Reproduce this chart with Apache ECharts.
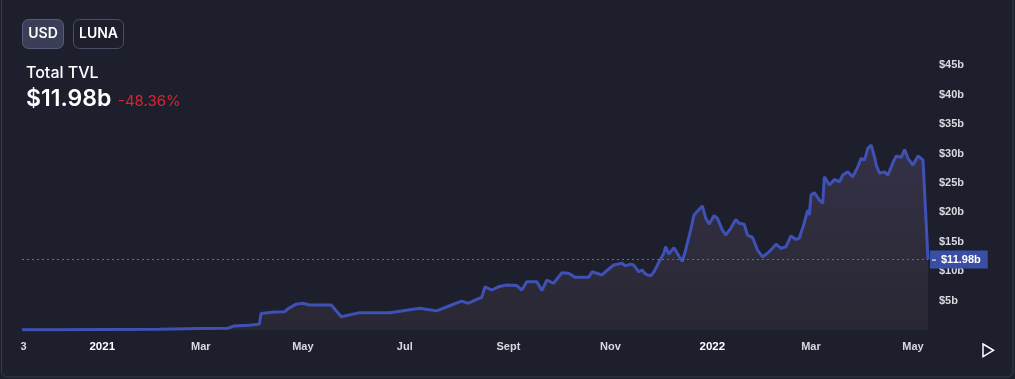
<!DOCTYPE html>
<html>
<head>
<meta charset="utf-8">
<script src="https://cdn.jsdelivr.net/npm/echarts@6/dist/echarts.min.js"></script>
<style>
  html, body { margin: 0; padding: 0; background: #1d1f2d; }
  #chart { width: 1015px; height: 379px; }
</style>
</head>
<body>
<div id="chart"></div>
<script>
// ---- data ----
const dates = [
  '2020-11-14','2020-12-06','2021-01-01','2021-02-04','2021-02-28','2021-03-17','2021-03-21','2021-03-30',
  '2021-04-05','2021-04-06','2021-04-14','2021-04-20','2021-04-22','2021-04-27','2021-05-01','2021-05-05',
  '2021-05-18','2021-05-24','2021-06-04','2021-06-22','2021-07-10','2021-07-20','2021-07-29','2021-08-04',
  '2021-08-08','2021-08-13','2021-08-16','2021-08-18','2021-08-22','2021-08-26','2021-08-31','2021-09-06',
  '2021-09-09','2021-09-12','2021-09-18','2021-09-21','2021-09-24','2021-09-28','2021-10-03','2021-10-07',
  '2021-10-11','2021-10-19','2021-10-21','2021-10-27','2021-10-29','2021-11-03','2021-11-08','2021-11-10',
  '2021-11-13','2021-11-15','2021-11-18','2021-11-20','2021-11-22','2021-11-25','2021-11-27','2021-11-30',
  '2021-12-03','2021-12-04','2021-12-06','2021-12-09','2021-12-12','2021-12-14','2021-12-16','2021-12-19',
  '2021-12-21','2021-12-24','2021-12-26','2021-12-28','2021-12-30','2022-01-02','2022-01-04','2022-01-07',
  '2022-01-09','2022-01-12','2022-01-15','2022-01-17','2022-01-20','2022-01-22','2022-01-25','2022-01-28',
  '2022-01-31','2022-02-03','2022-02-06','2022-02-08','2022-02-11','2022-02-14','2022-02-17','2022-02-20',
  '2022-02-22','2022-02-25','2022-02-27','2022-02-28','2022-03-01','2022-03-03','2022-03-06','2022-03-08',
  '2022-03-09','2022-03-12','2022-03-15','2022-03-18','2022-03-20','2022-03-23','2022-03-26','2022-03-29',
  '2022-03-31','2022-04-02','2022-04-04','2022-04-06','2022-04-08','2022-04-09','2022-04-11','2022-04-14',
  '2022-04-16','2022-04-19','2022-04-21','2022-04-24','2022-04-26','2022-04-28','2022-05-01','2022-05-04',
  '2022-05-07','2022-05-08','2022-05-10'
];
const tvl = [
  0.05, 0.05, 0.08, 0.12, 0.25, 0.30, 0.70, 0.80,
  1.00, 2.80, 3.05, 3.10, 3.60, 4.40, 4.55, 4.25,
  4.25, 2.25, 2.95, 2.95, 3.70, 3.25, 4.25, 4.90,
  4.55, 5.20, 5.55, 7.35, 6.80, 7.35, 7.65, 7.55,
  6.80, 8.20, 8.20, 6.70, 8.50, 7.95, 9.75, 9.65,
  8.95, 8.95, 9.90, 9.35, 9.90, 11.05, 11.35, 10.90,
  11.20, 11.05, 9.90, 10.20, 9.50, 9.20, 9.85, 11.55,
  13.05, 14.20, 12.90, 14.00, 12.60, 11.65, 13.60, 17.00,
  19.55, 20.50, 21.10, 19.05, 18.00, 19.45, 19.00, 17.00,
  16.15, 17.30, 18.80, 18.15, 18.00, 16.15, 15.75, 13.60,
  12.45, 13.05, 13.90, 14.60, 13.90, 14.15, 16.00, 15.40,
  15.60, 18.25, 20.40, 19.55, 22.95, 23.35, 22.10, 21.55,
  26.05, 24.65, 25.60, 25.20, 26.35, 26.90, 26.05, 27.75,
  29.20, 28.90, 30.90, 31.45, 29.45, 28.05, 26.65, 26.90,
  26.35, 28.45, 29.60, 29.35, 30.70, 29.20, 28.05, 29.60,
  28.90, 23.25, 11.98
];
const xTickDates  = ['2020-11-15','2021-01-01','2021-03-01','2021-05-01','2021-07-01','2021-09-01','2021-11-01','2022-01-01','2022-03-01','2022-05-01'];
const xTickLabels = ['3','2021','Mar','May','Jul','Sept','Nov','2022','Mar','May'];
const yTickValues = [5, 10, 15, 20, 25, 30, 35, 40, 45];
const currentValue = 11.98;
const changePct = '-48.36%';

// ---- build ----
function ts(s) { const p = s.split('-').map(Number); return Date.UTC(p[0], p[1] - 1, p[2]); }
const seriesData = dates.map((d, i) => [ts(d), tvl[i]]);
const xTickTs = xTickDates.map(ts);
const labelByTs = {};
xTickTs.forEach((t, i) => { labelByTs[t] = xTickLabels[i]; });
const fmtB = v => '$' + (v % 1 === 0 ? String(v) : v.toFixed(2)) + 'b';

const chart = echarts.init(document.getElementById('chart'), null, { renderer: 'canvas' });
const labelFont = 'Liberation Sans, Arial, sans-serif';

chart.setOption({
  backgroundColor: '#1d1f2d',
  animation: false,
  grid: { left: 22, right: 87, top: 36, bottom: 49 },
  xAxis: {
    type: 'value',
    min: ts('2020-11-14'),
    max: ts('2022-05-10'),
    axisLine: { show: false },
    axisTick: { show: false },
    splitLine: { show: false },
    axisLabel: {
      customValues: xTickTs,
      margin: 11,
      color: '#d9dae0',
      fontFamily: labelFont,
      fontSize: 11,
      fontWeight: 'bold',
      formatter: v => {
        const l = labelByTs[v] || '';
        return /^\d{4}$/.test(l) ? '{y|' + l + '}' : l;
      },
      rich: { y: { color: '#ffffff', fontFamily: labelFont, fontSize: 11.5, fontWeight: 'bold' } }
    }
  },
  yAxis: {
    type: 'value',
    position: 'right',
    min: 0,
    max: 50,
    interval: 5,
    axisLine: { show: false },
    axisTick: { show: false },
    splitLine: { show: false },
    axisLabel: {
      customValues: yTickValues,
      margin: 11,
      color: '#d9dae0',
      fontFamily: labelFont,
      fontSize: 11,
      fontWeight: 'bold',
      formatter: v => '$' + v + 'b'
    }
  },
  series: [{
    type: 'line',
    data: seriesData,
    showSymbol: false,
    symbol: 'none',
    smooth: false,
    lineStyle: { color: '#3f51b5', width: 3 },
    areaStyle: {
      color: new echarts.graphic.LinearGradient(0, 0, 0, 1, [
        { offset: 0, color: 'rgba(110,95,140,0.42)' },
        { offset: 1, color: 'rgba(95,75,80,0.28)' }
      ])
    },
    markLine: {
      silent: true,
      symbol: ['none', 'none'],
      lineStyle: { color: '#5566d4', width: 1, type: [2, 3], opacity: 1 },
      emphasis: { disabled: true },
      label: {
        position: 'end',
        distance: 2,
        formatter: '{t|}{v|' + fmtB(currentValue) + '}',
        backgroundColor: '#3b4ea6',
        padding: [3, 7, 2, 2],
        rich: {
          t: { width: 4, height: 1, backgroundColor: '#ffffff' },
          v: { color: '#ffffff', fontFamily: labelFont, fontSize: 11, fontWeight: 'bold', padding: [0, 0, 0, 5], lineHeight: 13 }
        }
      },
      data: [{ yAxis: currentValue }]
    }
  }],
  graphic: [
    { type: 'rect', z: -1, shape: { x: 1.5, y: -10, width: 1011.5, height: 387, r: 6 },
      style: { fill: 'none', stroke: '#363a4c', lineWidth: 1 } },
    { type: 'rect', shape: { x: 22.5, y: 19.5, width: 41, height: 29, r: 6 },
      style: { fill: '#3a3e56', stroke: '#585c76', lineWidth: 1 } },
    { type: 'text', x: 43, y: 34,
      style: { text: 'USD', fill: '#ffffff', font: '600 14px Inter, sans-serif', textAlign: 'center', textVerticalAlign: 'middle' } },
    { type: 'rect', shape: { x: 73.5, y: 19.5, width: 50, height: 29, r: 6 },
      style: { fill: 'none', stroke: '#4a4e66', lineWidth: 1 } },
    { type: 'text', x: 98.5, y: 34,
      style: { text: 'LUNA', fill: '#ffffff', font: '600 14px Inter, sans-serif', textAlign: 'center', textVerticalAlign: 'middle' } },
    { type: 'text', x: 26, y: 73,
      style: { text: 'Total TVL', fill: '#ffffff', font: '500 16px Inter, sans-serif', textAlign: 'left', textVerticalAlign: 'middle' } },
    { type: 'text', x: 26, y: 99,
      style: { text: fmtB(currentValue), fill: '#ffffff', font: '600 23px Inter, sans-serif', textAlign: 'left', textVerticalAlign: 'middle' } },
    { type: 'text', x: 118, y: 101,
      style: { text: changePct, fill: '#dc2530', font: '400 15px Inter, sans-serif', textAlign: 'left', textVerticalAlign: 'middle' } },
    { type: 'polygon', shape: { points: [[983, 344], [993.5, 350.3], [983, 356.6]] },
      style: { fill: 'none', stroke: '#ffffff', lineWidth: 1.5 } }
  ]
});
</script>
</body>
</html>
